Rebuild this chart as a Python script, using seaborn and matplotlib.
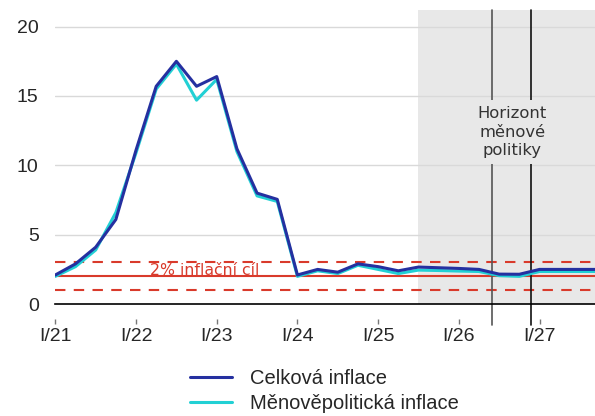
import matplotlib
matplotlib.use("Agg")
import matplotlib.pyplot as plt
import matplotlib.transforms as mtransforms
import seaborn as sns
import pandas as pd

# Čtvrtletní data I/21 až I/28 (poslední bod už mimo osu)
ctvrtleti = list(range(29))
celkova = [2.1, 2.9, 4.1, 6.1, 11.1, 15.7, 17.5, 15.7, 16.4, 11.2, 8.0, 7.55,
           2.1, 2.5, 2.3, 2.9, 2.7, 2.4, 2.67, 2.62, 2.57, 2.5, 2.16, 2.15,
           2.5, 2.5, 2.5, 2.5, 2.5]
menovepoliticka = [2.0, 2.7, 3.9, 6.6, 10.9, 15.5, 17.3, 14.7, 16.2, 11.0, 7.8, 7.4,
                   2.0, 2.4, 2.2, 2.8, 2.5, 2.2, 2.45, 2.42, 2.38, 2.35, 2.05, 2.0,
                   2.35, 2.35, 2.35, 2.35, 2.35]
popisky_x = ["I/21", "I/22", "I/23", "I/24", "I/25", "I/26", "I/27"]
pozice_x = [0, 4, 8, 12, 16, 20, 24]
zacatek_prognozy = 18
horizont = [21.65, 23.6]

df = pd.DataFrame({
    "x": ctvrtleti * 2,
    "hodnota": menovepoliticka + celkova,
    "serie": ["Měnověpolitická inflace"] * len(menovepoliticka) + ["Celková inflace"] * len(celkova),
})

sns.set_style("white")
plt.rcParams["font.family"] = ["Liberation Sans", "DejaVu Sans"]

fig = plt.figure(figsize=(5.95, 4.16), dpi=100)
ax = fig.add_axes([0.093, 0.269, 0.907, 0.707])

# Šedá oblast prognózy
ax.axvspan(zacatek_prognozy, 30, color="#e8e8e8", zorder=0, lw=0)

# Mřížka
for v in [5, 10, 15, 20]:
    ax.axhline(v, color="#d9d9d9", lw=1, zorder=1)

# Inflační cíl a tolerance
cervena = "#d93a2b"
ax.axhline(2, color=cervena, lw=1.5, zorder=2)
ax.axhline(1, color=cervena, lw=1.5, ls=(0, (5, 4)), zorder=2)
ax.axhline(3, color=cervena, lw=1.5, ls=(0, (5, 4)), zorder=2)
ax.text(7.4, 2.45, "2% inflační cíl", color=cervena, fontsize=11.3,
        family="DejaVu Sans", ha="center", va="center", zorder=3)

# Horizont měnové politiky
for h, c in zip(horizont, ["#555555", "#111111"]):
    ax.axvline(h, ymin=-0.07, ymax=1, color=c, lw=1.2, clip_on=False, zorder=2)
ax.text(22.65, 12.4, "Horizont\nměnové\npolitiky", color="#333333", fontsize=11.8,
        family="DejaVu Sans", ha="center", va="center", linespacing=1.3, zorder=4,
        bbox=dict(facecolor="#e8e8e8", edgecolor="none", pad=4))

# Měnověpolitická první, aby celková byla navrchu
sns.lineplot(data=df, x="x", y="hodnota", hue="serie",
             hue_order=["Měnověpolitická inflace", "Celková inflace"],
             palette=["#22d0d4", "#2530a0"],
             linewidth=2.2, ax=ax, zorder=5, legend=True)

ax.set_xlim(0, 26.75)
ax.set_ylim(0, 21.2)
ax.set_xticks(pozice_x)
ax.set_xticklabels(popisky_x)
ax.set_yticks([0, 5, 10, 15, 20])
ax.set_xlabel("")
ax.set_ylabel("")
ax.tick_params(axis="x", length=0, pad=17, labelsize=14)
ax.tick_params(axis="y", length=0, pad=12, labelsize=14)
for s in ["left", "right", "top"]:
    ax.spines[s].set_visible(False)
ax.spines["bottom"].set_color("black")
ax.spines["bottom"].set_linewidth(1.2)

# Drobné značky nad popisky osy x
trans = mtransforms.blended_transform_factory(ax.transData, ax.transAxes)
ax.vlines(pozice_x, -0.066, -0.052, transform=trans, color="#777777", lw=1, clip_on=False)

handles, labels = ax.get_legend_handles_labels()
ax.get_legend().remove()
fig.legend(handles[::-1], labels[::-1], loc="upper center", bbox_to_anchor=(0.545, 0.157),
           frameon=False, fontsize=14.5, handlelength=2.1, handletextpad=0.85, labelspacing=0.33)

fig.savefig("out.png", dpi=100)
